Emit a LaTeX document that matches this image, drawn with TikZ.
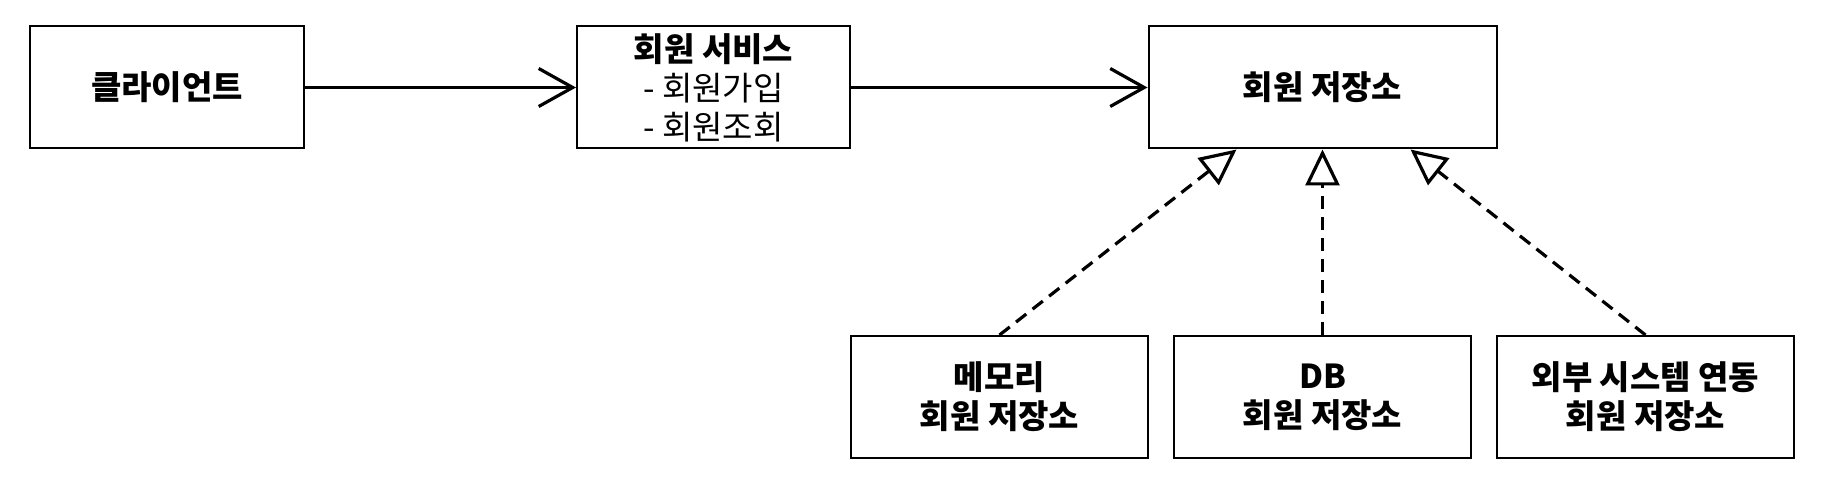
\documentclass[tikz,border=0pt]{standalone}
\usepackage{fontspec}
\setmainfont{Noto Sans CJK KR}
\usetikzlibrary{arrows.meta}
\tikzset{
   box/.style={draw, line width=1pt, minimum height=61pt, inner sep=0pt, align=center,
      font=\fontsize{16.5}{19.5}\selectfont\bfseries},
   uses/.style={line width=1.6pt, -{Straight Barb[length=17pt,width=19pt]}},
   realizes/.style={line width=1.6pt, dash pattern=on 6.5pt off 4pt,
      -{Triangle[open,length=18pt,width=17pt]}}
}
\begin{document}
\begin{tikzpicture}[x=0.5pt, y=-0.5pt]
   \useasboundingbox (0,0) rectangle (1828,502);
   \def \Boxes {
      client/167/87.5/274/{클라이언트},
      service/713.5/87.5/273/{회원 서비스\\{\mdseries - 회원가입}\\{\mdseries - 회원조회}},
      repo/1322.5/87.5/348/{회원 저장소},
      memory/999.5/397/297/{메모리\\회원 저장소},
      db/1322.5/397/297/{DB\\회원 저장소},
      ext/1645.5/397/297/{외부 시스템 연동\\회원 저장소}}
   \def \Uses {
      client/service,
      service/repo}
   \def \Impls {
      memory/-43pt,
      db/0pt,
      ext/44pt}
   \foreach \u / \x / \y / \w / \t in \Boxes {
      \node[box, minimum width={\w*0.5pt}] (\u) at (\x, \y) {\t};
   }
   \foreach \u / \v in \Uses {
      \draw[uses] (\u) -- (\v);
   }
   \foreach \u / \s in \Impls {
      \draw[realizes] (\u.north) -- ([xshift=\s]repo.south);
   }
\end{tikzpicture}
\end{document}
